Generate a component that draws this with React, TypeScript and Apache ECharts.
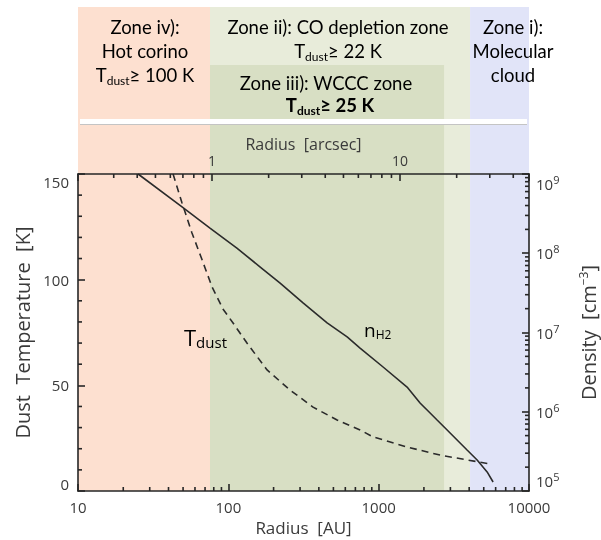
import React, { useEffect, useRef } from 'react';
import * as echarts from 'echarts';

// n_H2 density profile (Radius [AU] -> density [cm^-3])
const radiusNH2 = [25.1, 49.2, 75.5, 114, 163, 221, 314, 454, 617, 752, 1070, 1545, 1885, 2447, 2987, 3873, 4518, 5265, 5770];
const densityNH2 = [1e9, 3.84e8, 2.08e8, 1.16e8, 6.7e7, 4.2e7, 2.36e7, 1.32e7, 8.8e6, 6.37e6, 3.67e6, 2.05e6, 1.29e6, 7.87e5, 5.4e5, 3.29e5, 2.46e5, 1.74e5, 1.3e5];

// Dust temperature profile (Radius [AU] -> T [K])
const radiusTdust = [42.9, 49.2, 57.3, 66.8, 78, 92.3, 107.5, 133, 181, 257, 366, 529, 752, 918, 1545, 2558, 3873, 5510];
const tDust = [150, 136.3, 122.1, 109.5, 96.5, 86, 79.5, 70.0, 57.3, 47.8, 39.7, 33.6, 28.9, 25.6, 20.8, 17.0, 14.7, 12.8];

// Zone bands (Radius [AU])
const bandStartAU = [10, 75.5, 75.5, 4055];
const bandEndAU = [75.5, 4055, 2723, 10000];

// Tick values
const arcsecLabels = [1, 10];
const auMinorTicks = [20, 30, 40, 50, 60, 70, 80, 90, 200, 300, 400, 500, 600, 700, 800, 900, 2000, 3000, 4000, 5000, 6000, 7000, 8000, 9000];
const arcsecMinorTicks = [0.3, 0.4, 0.5, 0.6, 0.7, 0.8, 0.9, 2, 3, 4, 5, 6, 7, 8, 9, 20, 30, 40];
const tempMinorTicks = [10, 20, 30, 40, 60, 70, 80, 90, 110, 120, 130, 140];
const densityMinorTicks = [
  2e5, 3e5, 4e5, 5e5, 6e5, 7e5, 8e5, 9e5,
  2e6, 3e6, 4e6, 5e6, 6e6, 7e6, 8e6, 9e6,
  2e7, 3e7, 4e7, 5e7, 6e7, 7e7, 8e7, 9e7,
  2e8, 3e8, 4e8, 5e8, 6e8, 7e8, 8e8, 9e8,
];

// Annotation texts (rich-text markup) and their styles/positions
const annotationTexts = [
  '{a|Zone iv):}',
  '{a|Hot corino}',
  '{a|T}{s|dust}{a|≥ 100 K}',
  '{a|Zone ii): CO depletion zone}',
  '{a|T}{s|dust}{a|≥ 22 K}',
  '{a|Zone iii): WCCC zone}',
  '{b|T}{bs|dust}{b|≥ 25 K}',
  '{a|Zone i):}',
  '{a|Molecular}',
  '{a|cloud}',
  '{t|T}{ts|dust}',
  '{n|n}{ns|H2}',
];
const annotationX = [145, 145, 145, 338, 338, 326, 330, 513, 513, 513, 184, 364];
const annotationY = [27, 51, 75, 27, 51, 83, 105, 27, 51, 75, 337, 330];
const annotationAlign = ['center', 'center', 'center', 'center', 'center', 'center', 'center', 'center', 'center', 'center', 'left', 'left'];

// styles (kept separate from data)
const bandColors = ['#fde0d0', '#e8ecda', '#d8dfc4', '#e1e4f8'];
const bandTopPx = [7, 7, 65, 7];

export default function App() {
  const ref = useRef<HTMLDivElement>(null);

  useEffect(() => {
    const chart = echarts.init(ref.current!, null, { renderer: 'svg' });
    const ink = '#262626';
    const txt = '#3a3a3a';
    const axisFont = 'Open Sans';
    const zoneFont = 'Lato';
    const zoneSize = 18.5;
    const MAJ = 7;
    const MIN = 4;
    const TW = 1.6;

    const richStyles = {
      a: { fontFamily: zoneFont, fontSize: zoneSize, color: '#1a1a1a', lineHeight: 22 },
      s: { fontFamily: zoneFont, fontSize: 12, color: '#1a1a1a', lineHeight: 12, padding: [10, 0, 0, 0] },
      b: { fontFamily: zoneFont, fontSize: zoneSize, fontWeight: 'bold', color: '#1a1a1a', lineHeight: 22 },
      bs: { fontFamily: zoneFont, fontSize: 12, fontWeight: 'bold', color: '#1a1a1a', lineHeight: 12, padding: [10, 0, 0, 0] },
      t: { fontFamily: axisFont, fontSize: 22, color: '#222', lineHeight: 24 },
      ts: { fontFamily: axisFont, fontSize: 15, color: '#222', lineHeight: 14, padding: [10, 0, 0, 0] },
      n: { fontFamily: axisFont, fontSize: 19, color: '#222', lineHeight: 20 },
      ns: { fontFamily: axisFont, fontSize: 12, color: '#222', lineHeight: 12, padding: [8, 0, 0, 0] },
    };

    // side: 'bottom' | 'top' | 'left' | 'right'
    const tickSeries = (data: number[][], xAxisIndex: number, yAxisIndex: number, side: string) => ({
      type: 'custom',
      xAxisIndex,
      yAxisIndex,
      z: 10,
      clip: false,
      encode: { x: 0, y: 1 },
      data,
      renderItem: (params: any, api: any) => {
        const p = api.coord([api.value(0), api.value(1)]);
        let shape;
        if (side === 'bottom') shape = { x: p[0] - TW / 2, y: p[1] - MIN, width: TW, height: MIN };
        else if (side === 'top') shape = { x: p[0] - TW / 2, y: p[1], width: TW, height: MIN };
        else if (side === 'left') shape = { x: p[0], y: p[1] - TW / 2, width: MIN, height: TW };
        else shape = { x: p[0] - MIN, y: p[1] - TW / 2, width: MIN, height: TW };
        return { type: 'rect', shape, style: { fill: ink } };
      },
    });

    const baseAxis = {
      z: 5,
      axisLine: { show: true, onZero: false, lineStyle: { color: ink, width: 1.6 } },
      axisTick: { show: true, inside: true, length: MAJ, lineStyle: { color: ink, width: TW } },
      splitLine: { show: false },
      nameLocation: 'middle',
      nameMoveOverlap: false,
    };

    chart.setOption({
      animation: false,
      grid: { left: 78, right: 72, top: 174, bottom: 49, outerBoundsMode: 'none' },
      xAxis: [
        {
          ...baseAxis,
          type: 'log',
          min: 10,
          max: 10000,
          position: 'bottom',
          axisLabel: {
            formatter: (v: number) => String(Math.round(v)),
            margin: 8,
            fontFamily: axisFont,
            fontSize: 15,
            color: txt,
          },
          name: 'Radius  [AU]',
          nameGap: 28,
          nameTextStyle: { fontFamily: axisFont, fontSize: 17, color: txt },
        },
        {
          ...baseAxis,
          type: 'log',
          min: 0.1937,
          max: 48.5,
          position: 'top',
          axisLabel: {
            formatter: (v: number) => {
              const hit = arcsecLabels.find((a) => Math.abs(v - a) < 1e-6 * a);
              return hit !== undefined ? String(hit) : '';
            },
            margin: 7,
            fontFamily: axisFont,
            fontSize: 14,
            color: txt,
          },
          name: 'Radius  [arcsec]',
          nameGap: 22,
          nameTextStyle: { fontFamily: axisFont, fontSize: 16, color: txt },
        },
      ],
      yAxis: [
        {
          ...baseAxis,
          type: 'value',
          min: 0,
          max: 150,
          interval: 50,
          position: 'left',
          axisLabel: {
            margin: 9,
            fontFamily: axisFont,
            fontSize: 15,
            color: txt,
            verticalAlignMinLabel: 'bottom',
            verticalAlignMaxLabel: 'top',
          },
          name: 'Dust  Temperature  [K]',
          nameGap: 46,
          nameTextStyle: { fontFamily: axisFont, fontSize: 20, color: txt },
        },
        {
          ...baseAxis,
          type: 'log',
          min: 1e5,
          max: 1e9,
          position: 'right',
          axisLabel: {
            formatter: (v: number) => `{b|10}{s|${Math.round(Math.log10(v))}}`,
            margin: 7,
            verticalAlignMinLabel: 'bottom',
            verticalAlignMaxLabel: 'top',
            rich: {
              b: { fontFamily: axisFont, fontSize: 15, color: txt },
              s: { fontFamily: axisFont, fontSize: 11, color: txt, padding: [0, 0, 9, 0] },
            },
          },
          name: '{a|Density  [cm}{s|−3}{a|]}',
          nameGap: 48,
          nameTextStyle: {
            rich: {
              a: { fontFamily: axisFont, fontSize: 20, color: txt },
              s: { fontFamily: axisFont, fontSize: 12, color: txt, padding: [0, 0, 10, 0] },
            },
          },
        },
      ],
      series: [
        {
          type: 'custom',
          xAxisIndex: 0,
          yAxisIndex: 0,
          z: 1,
          clip: false,
          silent: true,
          encode: { x: [0, 1], y: 2 },
          data: bandStartAU.map((s, i) => [s, bandEndAU[i], 0]),
          renderItem: (params: any, api: any) => {
            const i = params.dataIndex;
            const p0 = api.coord([api.value(0), 0]);
            const p1 = api.coord([api.value(1), 0]);
            const top = bandTopPx[i];
            return {
              type: 'rect',
              shape: { x: p0[0], y: top, width: p1[0] - p0[0], height: p0[1] - top },
              style: { fill: bandColors[i] },
            };
          },
        },
        // white divider between the zone labels and the plot
        {
          type: 'custom',
          xAxisIndex: 0,
          yAxisIndex: 0,
          z: 12,
          clip: false,
          silent: true,
          encode: { x: [0, 1], y: 2 },
          data: [[bandStartAU[0], bandEndAU[3], 0]],
          renderItem: (params: any, api: any) => {
            const p0 = api.coord([api.value(0), 0]);
            const p1 = api.coord([api.value(1), 0]);
            return {
              type: 'group',
              children: [
                { type: 'rect', shape: { x: p0[0] + 2, y: 119, width: p1[0] - p0[0] - 4, height: 5 }, style: { fill: '#ffffff' } },
                { type: 'rect', shape: { x: p0[0] + 2, y: 124, width: p1[0] - p0[0] - 4, height: 1 }, style: { fill: '#c4c4c4' } },
              ],
            };
          },
        },
        tickSeries(auMinorTicks.map((v) => [v, 0]), 0, 0, 'bottom'),
        tickSeries(arcsecMinorTicks.map((v) => [v, 150]), 1, 0, 'top'),
        tickSeries(tempMinorTicks.map((v) => [10, v]), 0, 0, 'left'),
        tickSeries(densityMinorTicks.map((v) => [10000, v]), 0, 1, 'right'),
        {
          type: 'line',
          xAxisIndex: 0,
          yAxisIndex: 1,
          z: 4,
          showSymbol: false,
          data: radiusNH2.map((r, i) => [r, densityNH2[i]]),
          lineStyle: { color: '#2b2b2b', width: 1.6 },
        },
        {
          type: 'line',
          xAxisIndex: 0,
          yAxisIndex: 0,
          z: 4,
          showSymbol: false,
          data: radiusTdust.map((r, i) => [r, tDust[i]]),
          lineStyle: { color: '#2b2b2b', width: 1.6, type: [7, 5] },
        },
        // zone labels and curve annotations
        {
          type: 'custom',
          xAxisIndex: 0,
          yAxisIndex: 0,
          z: 20,
          clip: false,
          silent: true,
          encode: { x: 0, y: 1 },
          data: annotationTexts.map(() => [100, 75]),
          renderItem: (params: any) => {
            const i = params.dataIndex;
            return {
              type: 'text',
              x: annotationX[i],
              y: annotationY[i],
              style: {
                text: annotationTexts[i],
                align: annotationAlign[i],
                verticalAlign: 'middle',
                rich: richStyles,
              },
            };
          },
        },
      ],
    });

    return () => chart.dispose();
  }, []);

  return <div ref={ref} style={{ position: 'fixed', left: 0, top: 0, width: 601, height: 540 }} />;
}
